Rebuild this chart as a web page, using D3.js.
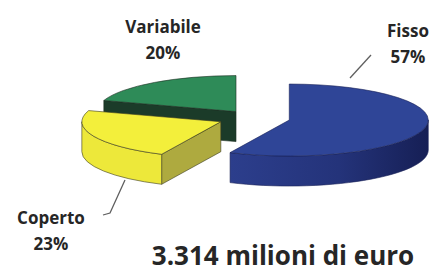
<!DOCTYPE html>
<html>
<head>
<meta charset="utf-8">
<script src="https://cdn.jsdelivr.net/npm/d3@7"></script>
<style>
  body { margin: 0; background: #fff; }
  text { font-family: "Open Sans", sans-serif; font-weight: bold; fill: #262626; }
</style>
</head>
<body>
<script>
// dati
const categories = ["Fisso", "Coperto", "Variabile"];
const values = [57, 23, 20];
const percentLabels = ["57%", "23%", "20%"];
const title = "3.314 milioni di euro";

const width = 433, height = 273;
const rx = 139, ry = 36, depth = 30;
const center = [254, 118];
const explode = [0.26, 0.26, 0.22];

const colors = {
  Fisso:     { top: "#2f4597", side: "url(#blueSide)", face: "#1e2a6a", stroke: "#1a2258" },
  Coperto:   { top: "#f3ef3b", side: "#ede83a", face: "#aeaa3f", stroke: "#3a3a22" },
  Variabile: { top: "#2e8b58", side: "#236b45", face: "#1b3b29", stroke: "#1d2d22" }
};

// label layout: [x, y of first line], leader line points
const labelPos = {
  Fisso: [408, 37],
  Coperto: [51, 224],
  Variabile: [163, 33]
};
const leaders = {
  Fisso: [[350, 78], [371, 55]],
  Coperto: [[125, 180], [110, 213], [103, 215]]
};

const svg = d3.select("body").append("svg")
  .attr("width", width)
  .attr("height", height);

const grad = svg.append("defs").append("linearGradient")
  .attr("id", "blueSide")
  .attr("x1", "0").attr("x2", "1").attr("y1", "0").attr("y2", "0");
grad.append("stop").attr("offset", "0").attr("stop-color", "#2c3e8c");
grad.append("stop").attr("offset", "0.55").attr("stop-color", "#24337a");
grad.append("stop").attr("offset", "1").attr("stop-color", "#161f55");

const arcs = d3.pie().sort(null).value(d => d)(values);

function pt(c, a, dz) {
  return [c[0] + rx * Math.sin(a), c[1] - ry * Math.cos(a) + (dz || 0)];
}

const pieG = svg.append("g");

// draw back slices first
[2, 1, 0].forEach(i => {
  const d = arcs[i];
  const name = categories[i];
  const col = colors[name];
  const mid = (d.startAngle + d.endAngle) / 2;
  const c = [center[0] + explode[i] * rx * Math.sin(mid),
             center[1] - explode[i] * ry * Math.cos(mid)];
  const a0 = d.startAngle, a1 = d.endAngle;
  const g = pieG.append("g").attr("class", "slice");

  // radial faces
  const faces = [];
  if (Math.sin(a0) < -1e-6) faces.push(a0);
  if (Math.sin(a1) > 1e-6) faces.push(a1);
  faces.forEach(a => {
    const p = pt(c, a), q = pt(c, a, depth);
    g.append("path")
      .attr("d", `M${c[0]},${c[1]}L${p}L${q}L${c[0]},${c[1] + depth}Z`)
      .attr("fill", col.face)
      .attr("stroke", col.stroke).attr("stroke-width", 0.6).attr("stroke-linejoin", "round");
  });

  // outer side (front half only)
  const s = Math.max(a0, Math.PI / 2), e = Math.min(a1, Math.PI * 1.5);
  if (s < e) {
    const p0 = pt(c, s), p1 = pt(c, e), q1 = pt(c, e, depth), q0 = pt(c, s, depth);
    g.append("path")
      .attr("d", `M${p0}A${rx},${ry} 0 0 1 ${p1}L${q1}A${rx},${ry} 0 0 0 ${q0}Z`)
      .attr("fill", col.side)
      .attr("stroke", col.stroke).attr("stroke-width", 0.6).attr("stroke-linejoin", "round");
  }

  // top face
  const p0 = pt(c, a0), p1 = pt(c, a1);
  const large = (a1 - a0) > Math.PI ? 1 : 0;
  g.append("path")
    .attr("d", `M${c[0]},${c[1]}L${p0}A${rx},${ry} 0 ${large} 1 ${p1}Z`)
    .attr("fill", col.top)
    .attr("stroke", col.stroke).attr("stroke-width", 0.6).attr("stroke-linejoin", "round");
});

// leader lines
Object.keys(leaders).forEach(k => {
  svg.append("path")
    .attr("d", d3.line()(leaders[k]))
    .attr("fill", "none")
    .attr("stroke", "#5f5f5f")
    .attr("stroke-width", 1.3);
});

// labels
categories.forEach((name, i) => {
  const [x, y] = labelPos[name];
  const t = svg.append("text")
    .attr("x", x).attr("y", y)
    .attr("text-anchor", "middle")
    .attr("font-size", 17);
  t.append("tspan").attr("x", x).text(name);
  t.append("tspan").attr("x", x).attr("dy", 26).text(percentLabels[i]);
});

svg.append("text")
  .attr("x", 283).attr("y", 265)
  .attr("text-anchor", "middle")
  .attr("font-size", 26)
  .text(title);
</script>
</body>
</html>
